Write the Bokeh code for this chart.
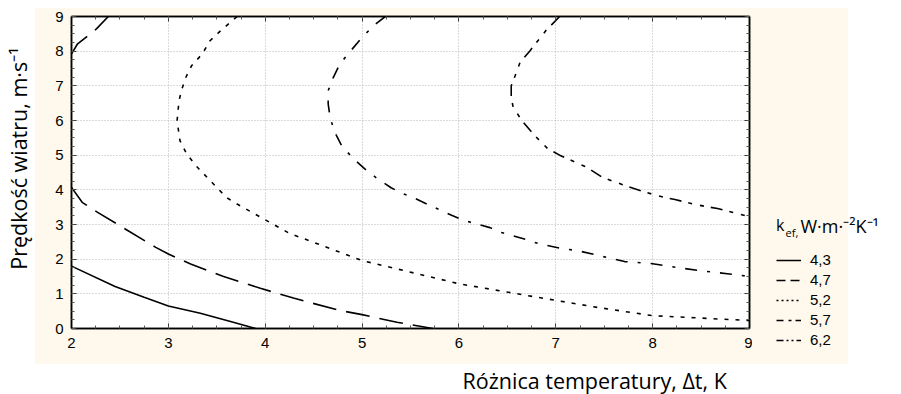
import numpy as np
from bokeh.plotting import figure
from bokeh.layouts import row, column
from bokeh.models import (Range1d, LinearAxis, SingleIntervalTicker, Legend,
                          LegendItem, Label)
from bokeh.embed import file_html
from bokeh.resources import INLINE

# ---------------- data ----------------
x_range_lim = [2, 9]
y_range_lim = [0, 9]

legend_labels = ["4,3", "4,7", "5,2", "5,7", "6,2"]

k43_x = [2.0, 2.45, 2.75, 3.0, 3.33, 3.67, 3.9]
k43_y = [1.8, 1.21, 0.9, 0.65, 0.44, 0.18, 0.0]

k47_upper_x = [2.0, 2.06, 2.26, 2.38]
k47_upper_y = [7.92, 8.2, 8.65, 9.0]
k47_lower_x = [2.0, 2.11, 2.27, 2.87, 3.0, 3.23, 3.57, 3.95, 4.3, 4.77, 5.0, 5.36, 5.73]
k47_lower_y = [4.07, 3.64, 3.35, 2.34, 2.15, 1.86, 1.5, 1.16, 0.87, 0.52, 0.4, 0.18, 0.0]

k52_x = [3.71, 3.54, 3.43, 3.35, 3.24, 3.18, 3.14, 3.11, 3.09, 3.12, 3.19, 3.30,
         3.40, 3.50, 3.60, 3.71, 4.26, 4.41, 5.0, 6.0, 7.0, 7.45, 8.0, 9.0]
k52_y = [9.0, 8.59, 8.3, 7.92, 7.58, 7.24, 6.91, 6.57, 5.99, 5.42, 5.03, 4.65,
         4.36, 4.07, 3.78, 3.59, 2.73, 2.58, 1.96, 1.29, 0.81, 0.6, 0.37, 0.23]

k57_x = [5.24, 5.13, 5.0, 4.88, 4.77, 4.7, 4.65, 4.65, 4.67, 4.72, 4.79, 4.91, 5.05,
         5.16, 5.3, 5.42, 5.55, 5.7, 5.93, 6.06, 6.32, 6.44, 6.7, 6.82, 7.07, 7.22,
         7.45, 7.71, 8.0, 8.25, 8.48, 8.77, 9.0]
k57_y = [9.0, 8.76, 8.4, 8.0, 7.63, 7.22, 6.86, 6.48, 6.08, 5.65, 5.27, 4.9, 4.55,
         4.32, 4.06, 3.89, 3.75, 3.55, 3.26, 3.11, 2.91, 2.77, 2.56, 2.45, 2.3, 2.25,
         2.1, 1.93, 1.87, 1.76, 1.67, 1.58, 1.5]

k62_x = [7.04, 6.9, 6.73, 6.63, 6.58, 6.54, 6.54, 6.56, 6.65, 6.77, 6.92, 7.04,
         7.32, 7.48, 7.69, 7.9, 8.12, 8.23, 8.45, 8.67, 8.88, 9.0]
k62_y = [9.0, 8.6, 8.0, 7.67, 7.29, 7.0, 6.66, 6.38, 6.0, 5.6, 5.18, 5.0,
         4.65, 4.36, 4.15, 3.95, 3.78, 3.72, 3.57, 3.46, 3.31, 3.22]

y_title = "Prędkość wiatru, m·s⁻¹"
x_title = "Różnica temperatury, Δt, K"
legend_title_main = "k"
legend_title_sub = "ef,"
legend_title_unit = "W·m·⁻²K⁻¹"

# ---------------- styles ----------------
CREAM = "#FEF9EC"
TICK_FONT = "Liberation Sans"
TITLE_FONT = "Open Sans"
TOTAL_W = 901
MAIN_W = 752
SIDE_W = TOTAL_W - MAIN_W
TOP_H = 364          # chart strip (bottom of the cream panel)
BOTTOM_H = 394 - TOP_H
CREAM_TOP = 8


def cream_bg(left, width):
    return {"background": "linear-gradient(%s, %s) %dpx %dpx / %dpx %dpx no-repeat, white"
            % (CREAM, CREAM, left, CREAM_TOP, width, TOP_H - CREAM_TOP)}


def free_frame(fig):
    # keep this helper figure's frame independent of the main chart's frame
    if "frame_align" in fig.properties():
        fig.frame_align = False


p = figure(width=MAIN_W, height=TOP_H,
           x_range=Range1d(*x_range_lim), y_range=Range1d(*y_range_lim),
           output_backend="svg", toolbar_location=None,
           min_border_left=71, min_border_right=3, min_border_top=16, min_border_bottom=36,
           background_fill_color="white", border_fill_color=None,
           outline_line_color="black", outline_line_width=1.5,
           styles=cream_bg(35, MAIN_W - 35))
free_frame(p)

xt = SingleIntervalTicker(interval=1, num_minor_ticks=4)
yt = SingleIntervalTicker(interval=1, num_minor_ticks=4)
p.xaxis.ticker = xt
p.yaxis.ticker = yt
p.xgrid.ticker = xt
p.ygrid.ticker = yt


def style_axis(ax, show_labels=True):
    ax.major_tick_in = 5
    ax.major_tick_out = 0
    ax.minor_tick_in = 3
    ax.minor_tick_out = 0
    ax.axis_line_color = "black"
    ax.axis_line_width = 1.5
    ax.major_tick_line_color = "#333333"
    ax.minor_tick_line_color = "#555555"
    ax.major_label_text_font = TICK_FONT
    ax.major_label_text_font_size = "15px"
    ax.major_label_text_color = "black"
    if not show_labels:
        ax.major_label_text_color = None
        ax.major_label_text_font_size = "1px"
        ax.major_label_standoff = 0


style_axis(p.xaxis[0])
style_axis(p.yaxis[0])
p.xaxis[0].major_label_standoff = 9
p.yaxis[0].major_label_standoff = 8

# y axis title (leading no-break spaces lift it a little, as in the reference)
p.yaxis[0].axis_label = "\u00a0" * 5 + y_title
p.yaxis[0].axis_label_standoff = 19
p.yaxis[0].axis_label_text_font = TITLE_FONT
p.yaxis[0].axis_label_text_font_size = "21.5px"
p.yaxis[0].axis_label_text_font_style = "normal"
p.yaxis[0].axis_label_text_color = "black"

right_ax = LinearAxis(ticker=yt)
style_axis(right_ax, show_labels=False)
p.add_layout(right_ax, "right")
top_ax = LinearAxis(ticker=xt)
style_axis(top_ax, show_labels=False)
p.add_layout(top_ax, "above")

p.grid.grid_line_color = "#b5b5b5"
p.grid.grid_line_dash = "1 2"
p.grid.grid_line_width = 1

# ---------------- contour lines ----------------
LW = 1.6
p.line(k43_x, k43_y, line_color="black", line_width=LW)
p.line(k47_upper_x, k47_upper_y, line_color="black", line_width=LW, line_dash="24 10")
p.line(k47_lower_x, k47_lower_y, line_color="black", line_width=LW, line_dash="24 10")
p.line(k52_x, k52_y, line_color="black", line_width=LW, line_dash="4 7")
p.line(k57_x, k57_y, line_color="black", line_width=LW, line_dash="12 10 3 10")
p.line(k62_x, k62_y, line_color="black", line_width=LW, line_dash="12 7 4 8 4 7")

# ---------------- legend panel (figure right of the chart) ----------------
q = figure(width=SIDE_W, height=TOP_H, x_range=Range1d(0, 1), y_range=Range1d(0, 1),
           x_axis_type=None, y_axis_type=None,
           output_backend="svg", toolbar_location=None, min_border=0,
           background_fill_color=None, border_fill_color=None, outline_line_color=None,
           styles=cream_bg(0, 848 - MAIN_W))
free_frame(q)
q.grid.visible = False

# legend sample lines (no visible data, only their dash style is shown in the legend)
nan_pt = np.array([np.nan])
legend_dashes = ["solid", "9 5", "2 3", "7 5 3 4", "7 3 2 3 2 3"]
items = []
for lab, dash in zip(legend_labels, legend_dashes):
    r = q.line(nan_pt, nan_pt, line_color="black", line_width=1.5, line_dash=dash)
    items.append(LegendItem(label=lab, renderers=[r]))

legend = Legend(items=items, location=(24, 14.5), glyph_width=25, glyph_height=20,
                label_height=20, label_standoff=9, spacing=0, padding=0, margin=0,
                label_text_font=TICK_FONT, label_text_font_size="15px",
                label_text_color="black",
                title=legend_title_main, title_text_font=TITLE_FONT,
                title_text_font_size="16px", title_text_font_style="normal",
                title_text_color="black", title_standoff=14,
                background_fill_alpha=0, border_line_alpha=0)
q.add_layout(legend)

q.add_layout(Label(x=33, y=132, x_units="screen", y_units="screen", text=legend_title_sub,
                   text_baseline="alphabetic", text_font=TITLE_FONT, text_font_size="11px",
                   text_color="black"))
q.add_layout(Label(x=48, y=138.5, x_units="screen", y_units="screen", text=legend_title_unit,
                   text_baseline="alphabetic", text_font=TITLE_FONT, text_font_size="18px",
                   text_color="black"))

# ---------------- x axis title strip (below the cream panel) ----------------
b = figure(width=TOTAL_W, height=BOTTOM_H, x_range=Range1d(0, 1), y_range=Range1d(0, 1),
           x_axis_type=None, y_axis_type=None,
           output_backend="svg", toolbar_location=None, min_border=0,
           background_fill_color=None, border_fill_color=None, outline_line_color=None,
           styles={"background": "white"})
free_frame(b)
b.grid.visible = False
b.add_layout(Label(x=462, y=14, x_units="screen", y_units="screen", text=x_title,
                   text_baseline="alphabetic", text_font=TITLE_FONT,
                   text_font_size="21.5px", text_color="black"))

layout = column(row(p, q, spacing=0), b, spacing=0)
open("out.html", "w").write(file_html(layout, INLINE))
